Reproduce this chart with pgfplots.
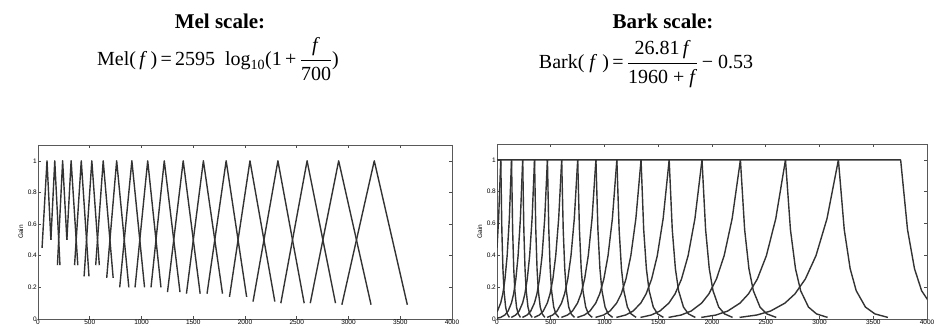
\documentclass[border=0pt]{standalone}
\usepackage{fontspec}
\setmainfont{Liberation Serif}
\setsansfont{Liberation Sans}
\usepackage{amsmath}
\usepackage{pgfplots}
\pgfplotsset{compat=1.18}
\pgfplotscreateplotcyclelist{fbl}{black!80, solid, line width=1.4pt, line join=round\\}
\begin{document}
\begin{tikzpicture}[x=1pt,y=1pt]
\useasboundingbox (0pt,0pt) rectangle (937pt,327pt);
\pgfplotsset{
  fb/.style={
    scale only axis, anchor=south west,
    xmin=0, xmax=4000, ymin=0, ymax=1.1,
    xtick={0,500,1000,1500,2000,2500,3000,3500,4000},
    ytick={0,0.2,0.4,0.6,0.8,1},
    tick align=inside, major tick length=3pt,
    tick style={black!70, line width=0.6pt},
    axis line style={black!65, line width=0.9pt},
    ticklabel style={font=\sffamily\fontsize{6.5}{7}\selectfont, inner sep=1pt},
    /pgf/number format/assume math mode=true,
    /pgf/number format/1000 sep={},
    /pgf/number format/fixed,
    ylabel={Gain},
    ylabel style={font=\sffamily\fontsize{6.5}{7}\selectfont, xshift=0pt},
    cycle list name=fbl,
    no markers,
  }
}
% ---------------- Mel filter bank ----------------
\begin{axis}[fb, at={(38pt,8pt)}, width=414pt, height=174pt]
\addplot coordinates {(39.2,0.45) (87,1) (124.5,0.5)};
\addplot coordinates {(124.5,0.5) (162,1) (212.2,0.34)};
\addplot coordinates {(187.8,0.34) (238,1) (279,0.5)};
\addplot coordinates {(279,0.5) (320,1) (384.7,0.34)};
\addplot coordinates {(353.3,0.34) (418,1) (492.5,0.27)};
\addplot coordinates {(445.5,0.27) (520,1) (592.6,0.34)};
\addplot coordinates {(557.4,0.34) (630,1) (726.2,0.26)};
\addplot coordinates {(663.8,0.26) (760,1) (877.6,0.2)};
\addplot coordinates {(789.4,0.2) (907,1) (1029.4,0.2)};
\addplot coordinates {(937.6,0.2) (1060,1) (1188,0.2)};
\addplot coordinates {(1092,0.2) (1220,1) (1371.9,0.17)};
\addplot coordinates {(1251.1,0.17) (1403,1) (1566.8,0.16)};
\addplot coordinates {(1434.2,0.16) (1598,1) (1782.8,0.16)};
\addplot coordinates {(1633.2,0.16) (1818,1) (2015.8,0.14)};
\addplot coordinates {(1850.2,0.14) (2048,1) (2288.3,0.11)};
\addplot coordinates {(2077.7,0.11) (2318,1) (2571.8,0.1)};
\addplot coordinates {(2346.2,0.1) (2600,1) (2874.5,0.1)};
\addplot coordinates {(2630.5,0.1) (2905,1) (3218,0.09)};
\addplot coordinates {(2936,0.09) (3249,1) (3568.4,0.09)};
\end{axis}
% ---------------- Bark filter bank ----------------
\begin{axis}[fb, at={(497pt,8pt)}, width=430pt, height=175pt]
\addplot coordinates {(0,1) (35.0,1) (45.0,0.562) (55.1,0.316) (65.1,0.178) (80.2,0.075) (95.4,0.032) (115.7,0.01)};
\addplot coordinates {(0,0.447) (15.0,0.631) (35.0,1) (135.1,1) (145.4,0.562) (155.7,0.316) (166.1,0.178) (181.7,0.075) (197.4,0.032) (218.6,0.01)};
\addplot coordinates {(0,0.0457) (4.0,0.0501) (34.0,0.1) (54.1,0.158) (74.2,0.251) (94.4,0.398) (114.7,0.631) (135.1,1) (238.9,1) (249.7,0.562) (260.6,0.316) (271.5,0.178) (288.1,0.075) (304.8,0.032) (327.4,0.01)};
\addplot coordinates {(0,0.005) (33.0,0.01) (73.2,0.0251) (103.5,0.0501) (134.1,0.1) (154.7,0.158) (175.4,0.251) (196.3,0.398) (217.5,0.631) (238.9,1) (349.2,1) (360.8,0.562) (372.5,0.316) (384.4,0.178) (402.3,0.075) (420.5,0.032) (445.1,0.01)};
\addplot coordinates {(133.1,0.01) (174.4,0.0251) (205.8,0.0501) (237.8,0.1) (259.5,0.158) (281.4,0.251) (303.7,0.398) (326.3,0.631) (349.2,1) (469.0,1) (481.8,0.562) (494.7,0.316) (507.7,0.178) (527.5,0.075) (547.7,0.032) (575.0,0.01)};
\addplot coordinates {(236.7,0.01) (280.3,0.0251) (313.8,0.0501) (348.0,0.1) (371.4,0.158) (395.1,0.251) (419.3,0.398) (443.9,0.631) (469.0,1) (601.7,1) (615.9,0.562) (630.3,0.316) (644.9,0.178) (667.1,0.075) (689.8,0.032) (720.7,0.01)};
\addplot coordinates {(346.9,0.01) (393.9,0.0251) (430.3,0.0501) (467.8,0.1) (493.4,0.158) (519.6,0.251) (546.3,0.398) (573.7,0.631) (601.7,1) (750.7,1) (766.8,0.562) (783.2,0.316) (799.7,0.178) (825.0,0.075) (850.7,0.032) (885.9,0.01)};
\addplot coordinates {(466.5,0.01) (518.2,0.0251) (558.6,0.0501) (600.3,0.1) (628.9,0.158) (658.2,0.251) (688.3,0.398) (719.1,0.631) (750.7,1) (920.2,1) (938.7,0.562) (957.4,0.316) (976.3,0.178) (1005.3,0.075) (1034.9,0.032) (1075.3,0.01)};
\addplot coordinates {(598.8,0.01) (656.7,0.0251) (702.0,0.0501) (749.1,0.1) (781.5,0.158) (814.8,0.251) (849.0,0.398) (884.1,0.631) (920.2,1) (1114.9,1) (1136.1,0.562) (1157.7,0.316) (1179.6,0.178) (1213.1,0.075) (1247.3,0.032) (1294.1,0.01)};
\addplot coordinates {(747.5,0.01) (813.1,0.0251) (864.7,0.0501) (918.4,0.1) (955.5,0.158) (993.7,0.251) (1032.9,0.398) (1073.3,0.631) (1114.9,1) (1340.0,1) (1364.6,0.562) (1389.6,0.316) (1415.1,0.178) (1453.9,0.075) (1493.7,0.032) (1548.2,0.01)};
\addplot coordinates {(916.6,0.01) (991.7,0.0251) (1050.9,0.0501) (1112.8,0.1) (1155.6,0.158) (1199.6,0.251) (1245.0,0.398) (1291.8,0.631) (1340.0,1) (1601.6,1) (1630.3,0.562) (1659.5,0.316) (1689.1,0.178) (1734.5,0.075) (1780.9,0.032) (1844.6,0.01)};
\addplot coordinates {(1110.7,0.01) (1197.3,0.0251) (1265.9,0.0501) (1337.5,0.1) (1387.1,0.158) (1438.3,0.251) (1491.0,0.398) (1545.5,0.631) (1601.6,1) (1906.9,1) (1940.5,0.562) (1974.6,0.316) (2009.3,0.178) (2062.3,0.075) (2116.7,0.032) (2191.2,0.01)};
\addplot coordinates {(1335.1,0.01) (1435.7,0.0251) (1515.3,0.0501) (1598.7,0.1) (1656.6,0.158) (1716.2,0.251) (1777.8,0.398) (1841.3,0.631) (1906.9,1) (2264.3,1) (2303.6,0.562) (2343.6,0.316) (2384.3,0.178) (2446.5,0.075) (2510.2,0.032) (2597.7,0.01)};
\addplot coordinates {(1595.9,0.01) (1713.2,0.0251) (1806.1,0.0501) (1903.6,0.1) (1971.2,0.158) (2041.0,0.251) (2113.0,0.398) (2187.4,0.631) (2264.3,1) (2683.4,1) (2729.6,0.562) (2776.6,0.316) (2824.3,0.178) (2897.4,0.075) (2972.3,0.032) (3075.0,0.01)};
\addplot coordinates {(1900.3,0.01) (2037.4,0.0251) (2146.2,0.0501) (2260.4,0.1) (2339.6,0.158) (2421.4,0.251) (2505.9,0.398) (2593.2,0.631) (2683.4,1) (3175.8,1) (3230.1,0.562) (3285.3,0.316) (3341.4,0.178) (3427.3,0.075) (3515.4,0.032) (3636.2,0.01)};
\addplot coordinates {(2256.5,0.01) (2417.2,0.0251) (2544.9,0.0501) (2678.8,0.1) (2771.8,0.158) (2867.9,0.251) (2967.2,0.398) (3069.8,0.631) (3175.8,1) (3754.8,1) (3818.7,0.562) (3883.7,0.316) (3949.7,0.178) (4050.8,0.075)};
\end{axis}
% ---------------- titles and formulas ----------------
\node[anchor=base, font=\bfseries\fontsize{21}{24}\selectfont] at (220pt,298pt) {Mel scale:};
\node[anchor=base, font=\fontsize{20}{23}\selectfont] at (218pt,261pt)
  {Mel(\,\textit{f}\,)\,=\,2595\ \ log\textsubscript{10}(1\,+\,$\dfrac{\text{\textit{f}}}{\text{700}}$)};
\node[anchor=base, font=\bfseries\fontsize{21}{24}\selectfont] at (663pt,298pt) {Bark scale:};
\node[anchor=base, font=\fontsize{20}{23}\selectfont] at (646pt,258pt)
  {Bark(\ \textit{f}\ )\,=\,$\dfrac{\text{26.81\,\textit{f}}}{\text{1960\ +\ \textit{f}}}$\,−\ 0.53};
\end{tikzpicture}
\end{document}
